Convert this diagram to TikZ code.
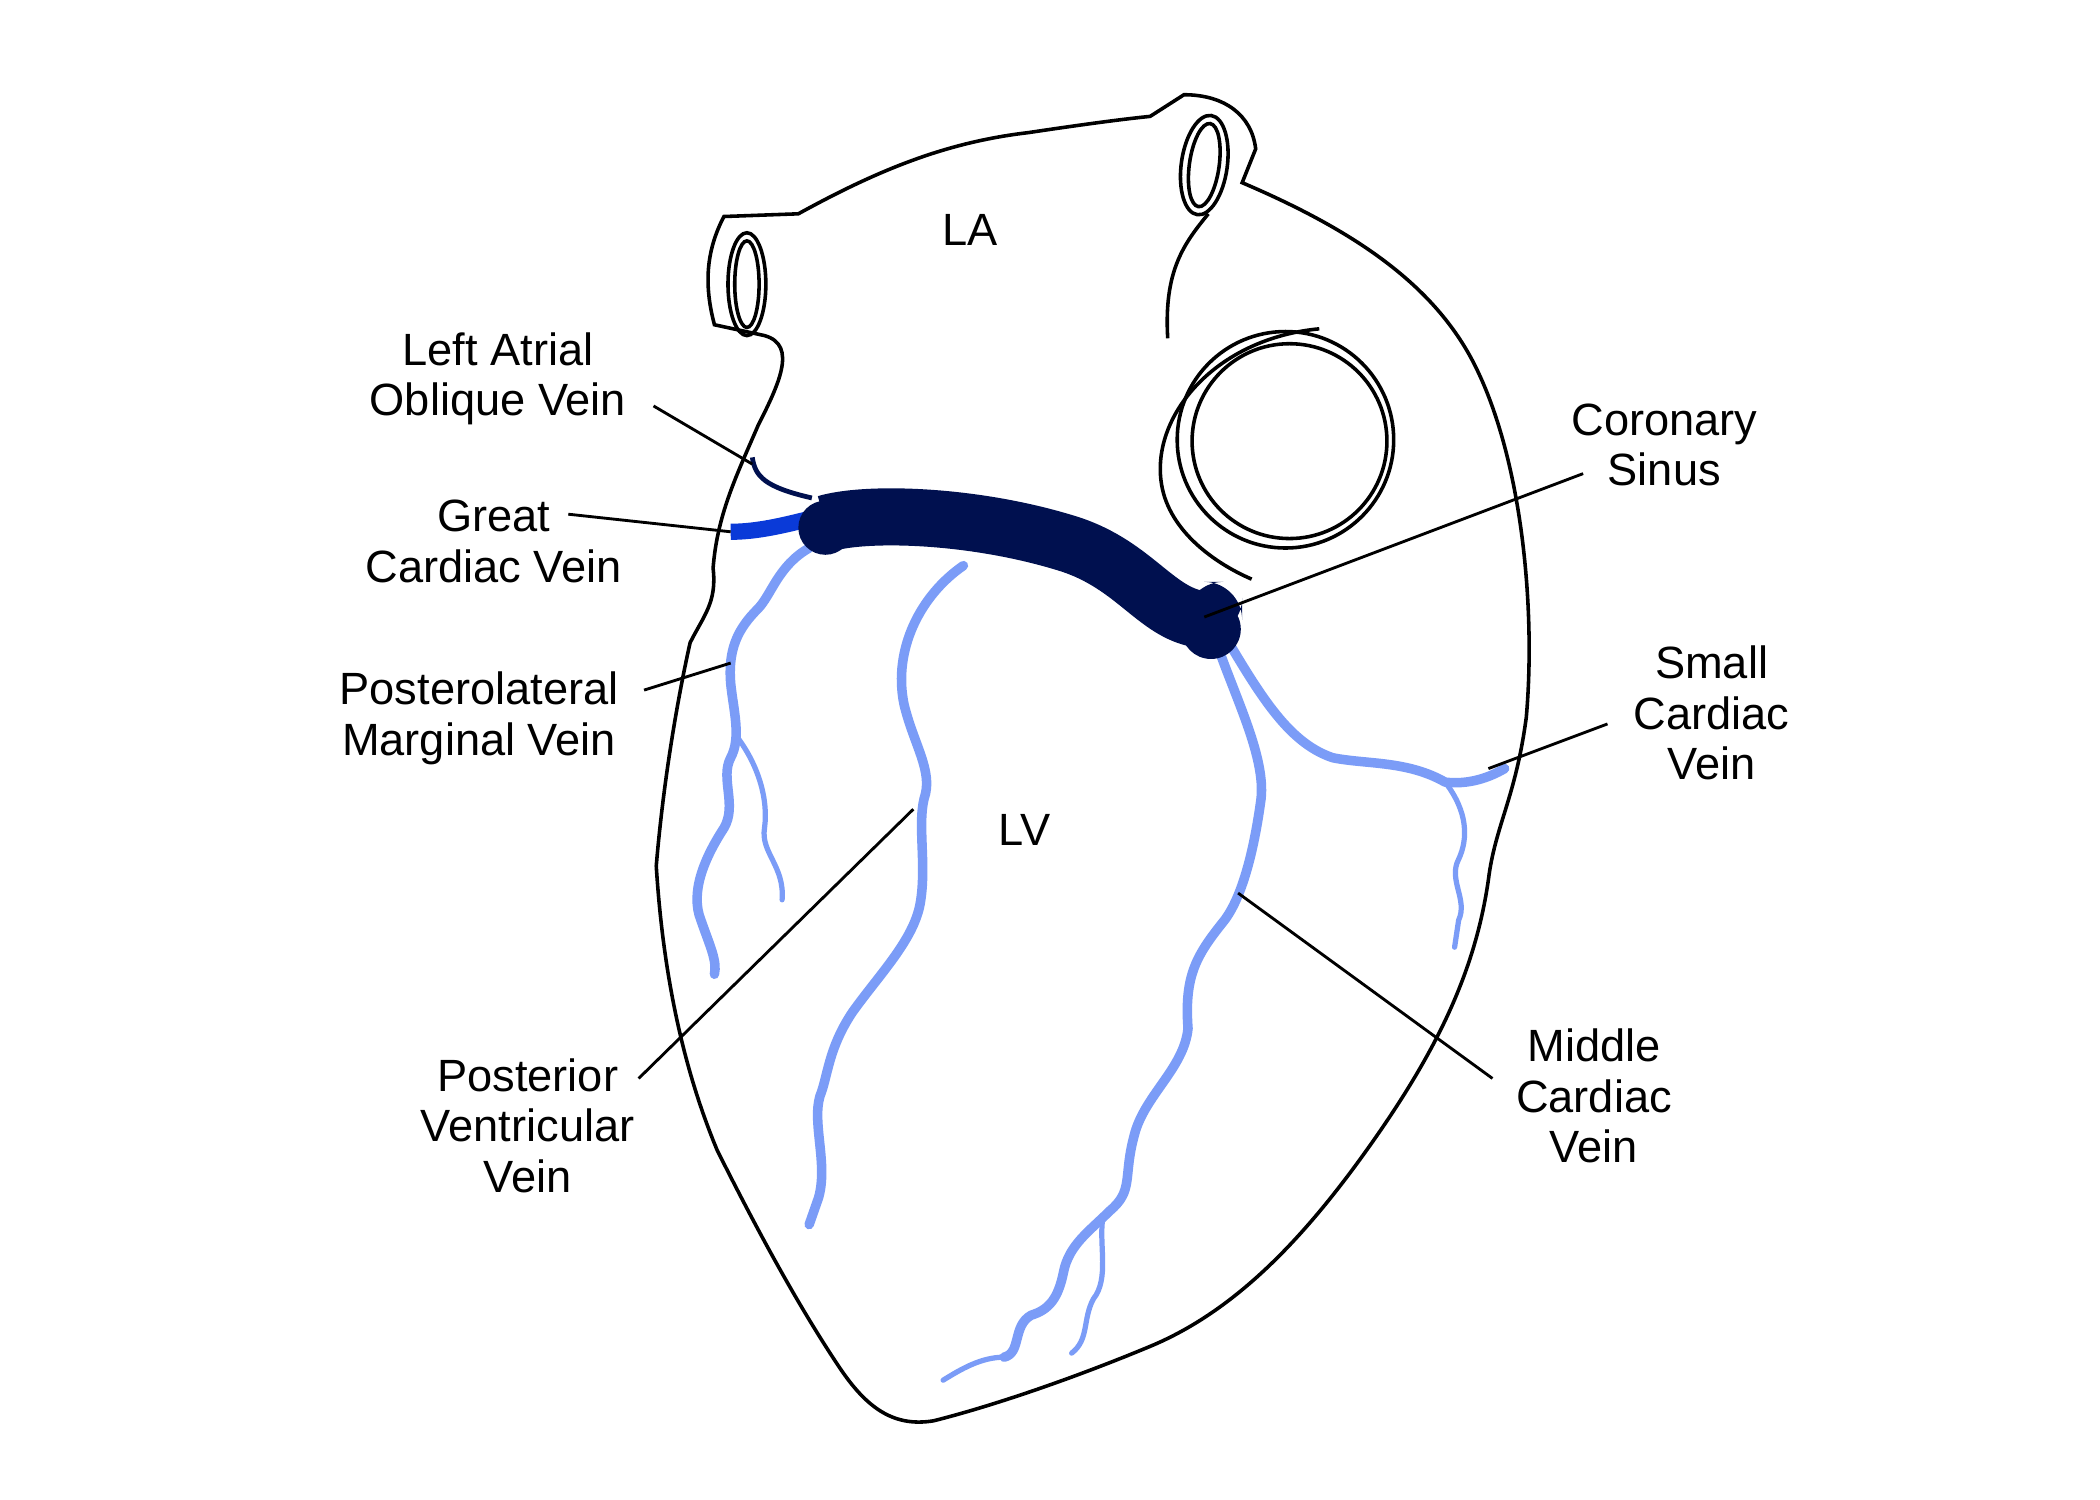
\documentclass[tikz,border=0pt]{standalone}
\usepackage{fontspec}
\setmainfont{Liberation Sans}
\begin{document}
\begin{tikzpicture}[x=0.01cm,y=-0.01cm,
  lbl/.style={align=center,font=\fontsize{9.5}{10.6}\selectfont,inner sep=1pt},
  ptr/.style={black,line width=0.6pt},
  outl/.style={black,line width=0.75pt},
  lvein/.style={draw=veinlight,line width=2pt,line cap=round,line join=round},
  thin/.style={draw=veinlight,line width=1.1pt,line cap=round}]
\definecolor{veinlight}{HTML}{7B9CF7}
\definecolor{navy}{HTML}{00104F}
\definecolor{gcv}{HTML}{0A3AD8}
\useasboundingbox[fill=white] (0,0) rectangle (1552,1108);
% heart outline
\draw[outl,fill=white] (535,160) -- (590,158) .. controls (650,125) and (700,105) .. (760,98)
 .. controls (800,92) and (830,88) .. (850,86) -- (875,70) .. controls (905,70) and (925,85) .. (928,110)
 -- (918,135) .. controls (1000,170) and (1060,210) .. (1090,270)
 .. controls (1125,340) and (1135,450) .. (1128,530) .. controls (1120,590) and (1105,610) .. (1100,650)
 .. controls (1090,720) and (1060,780) .. (1010,850) .. controls (960,920) and (910,970) .. (850,995)
 .. controls (790,1020) and (730,1040) .. (690,1050) .. controls (660,1055) and (640,1040) .. (620,1010)
 .. controls (590,965) and (560,910) .. (530,850) .. controls (505,790) and (490,720) .. (485,640)
 .. controls (490,580) and (500,520) .. (510,475) .. controls (520,455) and (530,445) .. (527,420)
 .. controls (530,380) and (545,350) .. (560,315) .. controls (575,285) and (590,255) .. (565,248)
 -- (528,240) .. controls (520,210) and (522,185) .. (535,160) -- cycle;
% tubes
\draw[outl] (552,210) ellipse[x radius=14,y radius=38];
\draw[outl] (552,210) ellipse[x radius=9,y radius=32];
\draw[outl,rotate around={-8:(890,122)}] (890,122) ellipse[x radius=17,y radius=37];
\draw[outl,rotate around={-8:(890,122)}] (890,122) ellipse[x radius=11,y radius=31];
\draw[outl] (893,158) .. controls (875,180) and (860,200) .. (863,250);
% big ring
\draw[outl] (950,325) ellipse[x radius=80,y radius=80];
\draw[outl] (953,326) ellipse[x radius=72,y radius=72];
\draw[outl] (975,243) .. controls (900,250) and (852,305) .. (858,355) .. controls (862,390) and (895,415) .. (925,428);
% veins light
\path[lvein] (598,405) .. controls (575,418) and (570,440) .. (560,450) .. controls (545,465) and (538,480) .. (540,505)
 .. controls (542,525) and (548,545) .. (540,560) .. controls (532,575) and (545,595) .. (535,612)
 .. controls (520,635) and (510,660) .. (518,680) .. controls (525,700) and (530,710) .. (528,720);
\path[thin] (545,545) .. controls (560,565) and (568,590) .. (565,612) .. controls (562,630) and (580,640) .. (578,665);
\path[lvein] (712,418) .. controls (680,440) and (660,480) .. (668,520) .. controls (675,550) and (690,570) .. (683,590)
 .. controls (678,610) and (685,640) .. (680,668) .. controls (675,695) and (650,720) .. (630,748)
 .. controls (612,775) and (612,795) .. (606,810) .. controls (600,830) and (612,860) .. (605,885) -- (598,905);
\path[lvein] (900,478) .. controls (915,520) and (935,560) .. (932,590) .. controls (928,620) and (920,660) .. (905,680)
 .. controls (885,705) and (875,720) .. (878,760) .. controls (875,790) and (845,810) .. (838,840)
 .. controls (830,870) and (838,880) .. (820,895) .. controls (805,910) and (790,920) .. (786,940)
 .. controls (782,960) and (775,968) .. (762,972) .. controls (748,980) and (755,1000) .. (742,1003);
\path[thin] (742,1003) .. controls (725,1003) and (710,1012) .. (697,1020);
\path[thin] (815,900) .. controls (812,920) and (820,945) .. (808,960) .. controls (800,975) and (805,990) .. (792,1000);
\path[lvein] (910,478) .. controls (935,520) and (955,550) .. (985,560) .. controls (1010,565) and (1040,562) .. (1068,578)
 .. controls (1085,580) and (1100,575) .. (1112,568);
\path[thin] (1068,578) .. controls (1085,600) and (1085,620) .. (1078,635) .. controls (1070,650) and (1085,665) .. (1078,680) -- (1075,700);
% great cardiac vein
\draw[gcv,line width=3.4pt] (540,393) .. controls (560,393) and (580,388) .. (600,383);
% oblique vein
\draw[navy,line width=1pt] (556,338) .. controls (558,352) and (565,360) .. (600,368);
% coronary sinus
\draw[navy,line width=12pt,line join=round] (610,387) .. controls (640,378) and (720,380) .. (790,402)
 .. controls (840,418) and (855,455) .. (890,458);
\fill[navy,rounded corners=8] (876,430) rectangle (918,470);
\fill[navy] (895,465) circle (22);
\fill[navy] (610,390) circle (20);
% labels
\node[lbl] at (717,170) {LA};
\node[lbl] at (757,613) {LV};
\node[lbl] (lao) at (368,280) {Left Atrial\\Oblique Vein};
\node[lbl] (gc) at (365,400) {Great\\Cardiac Vein};
\node[lbl] (pm) at (354,531) {Posterolateral\\Marginal Vein};
\node[lbl] (pv) at (390,832) {Posterior\\Ventricular\\Vein};
\node[lbl] (cs) at (1230,329) {Coronary\\Sinus};
\node[lbl] (sc) at (1265,527) {Small\\Cardiac\\Vein};
\node[lbl] (mc) at (1178,810) {Middle\\Cardiac\\Vein};
\coordinate (a1) at (556,343); \coordinate (a0) at (483,300);
\coordinate (b1) at (540,393); \coordinate (b0) at (420,380);
\coordinate (c1) at (540,490); \coordinate (c0) at (476,510);
\coordinate (d1) at (675,598); \coordinate (d0) at (472,797);
\coordinate (e1) at (890,456); \coordinate (e0) at (1170,350);
\coordinate (f1) at (1100,568); \coordinate (f0) at (1188,535);
\coordinate (g1) at (915,660); \coordinate (g0) at (1103,797);
\draw[ptr] (a0)--(a1); \draw[ptr] (b0)--(b1); \draw[ptr] (c0)--(c1); \draw[ptr] (d0)--(d1);
\draw[ptr] (e0)--(e1); \draw[ptr] (f0)--(f1); \draw[ptr] (g0)--(g1);
\end{tikzpicture}
\end{document}
